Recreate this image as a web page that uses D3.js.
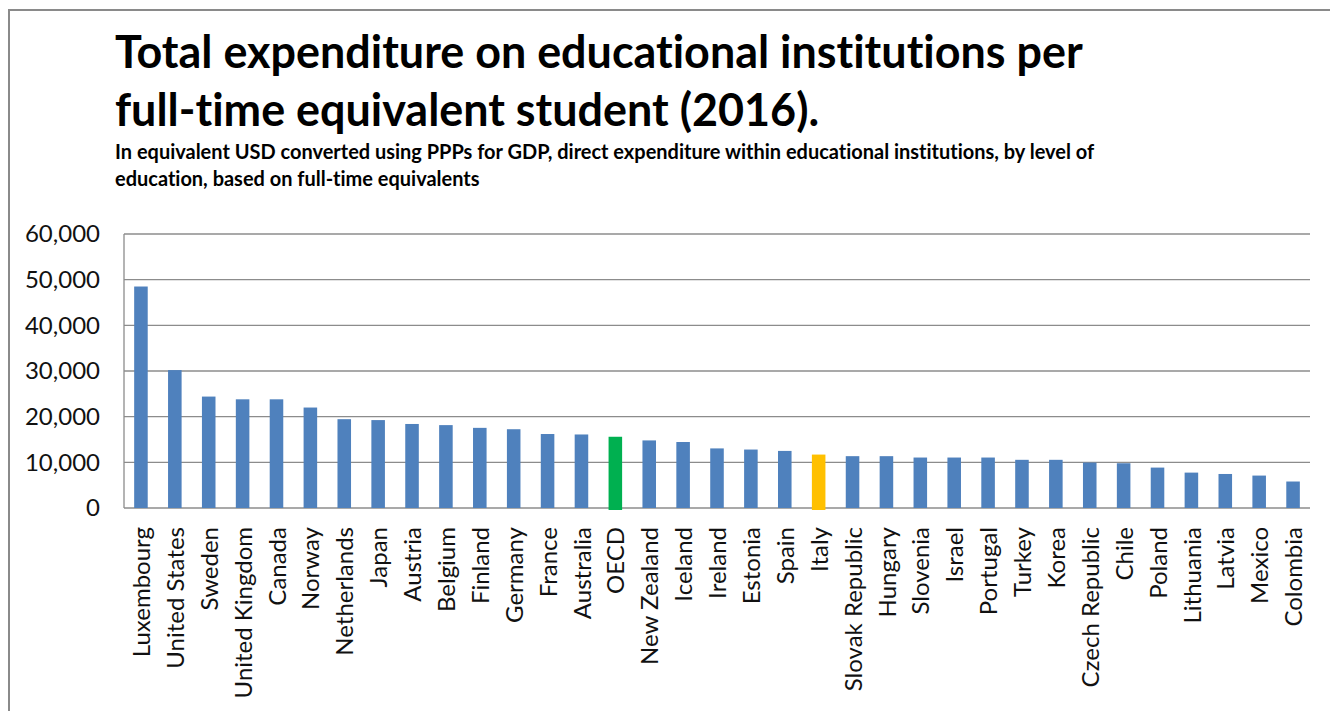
<!DOCTYPE html>
<html>
<head>
<meta charset="utf-8">
<script src="https://cdn.jsdelivr.net/npm/d3@7"></script>
<style>
  html, body { margin: 0; padding: 0; background: #fff; }
  svg { display: block; font-family: Lato, "Open Sans", sans-serif; }
  svg text { font-variant-ligatures: none; font-feature-settings: "liga" 0, "clig" 0, "dlig" 0, "calt" 0; }
</style>
</head>
<body>
<svg id="chart" width="1330" height="711"></svg>
<script>
// ─── Datos ────────────────────────────────────────────────────────────────
const countries = [
  'Luxembourg', 'United States', 'Sweden', 'United Kingdom', 'Canada', 'Norway',
  'Netherlands', 'Japan', 'Austria', 'Belgium', 'Finland', 'Germany', 'France',
  'Australia', 'OECD', 'New Zealand', 'Iceland', 'Ireland', 'Estonia', 'Spain',
  'Italy', 'Slovak Republic', 'Hungary', 'Slovenia', 'Israel', 'Portugal',
  'Turkey', 'Korea', 'Czech Republic', 'Chile', 'Poland', 'Lithuania', 'Latvia',
  'Mexico', 'Colombia'
];
const expenditure = [
  48500, 30200, 24400, 23800, 23800, 22000,
  19450, 19250, 18400, 18150, 17550, 17250, 16200,
  16100, 15600, 14800, 14450, 13050, 12800, 12500,
  11700, 11350, 11350, 11050, 11050, 11050,
  10550, 10550, 9950, 9800, 8850, 7750, 7450,
  7100, 5800
];
const highlight = { 'OECD': '#00b050', 'Italy': '#ffc000' };
const yTicks = [0, 10000, 20000, 30000, 40000, 50000, 60000];

const titleLines = [
  'Total expenditure on educational institutions per',
  'full-time equivalent student (2016).'
];
const subtitleLines = [
  'In equivalent USD converted using PPPs for GDP, direct expenditure within educational institutions, by level of',
  'education, based on full-time equivalents'
];

// ─── Layout ───────────────────────────────────────────────────────────────
const svg = d3.select('#chart');
const plot = { left: 124, right: 1310, top: 234, bottom: 508 };

// marco exterior
svg.append('path')
  .attr('d', 'M9,711 V10 H1330')
  .attr('fill', 'none')
  .attr('stroke', '#8a8a8a')
  .attr('stroke-width', 2);

// ─── Título ───────────────────────────────────────────────────────────────
function fitText(sel, width) {
  const w = sel.node().getComputedTextLength();
  const fs = parseFloat(sel.attr('font-size'));
  sel.attr('font-size', fs * width / w);
}

const t1 = svg.append('text').attr('x', 115).attr('y', 68)
  .attr('font-size', 44).attr('font-weight', 700).attr('fill', '#000')
  .text(titleLines[0]);
fitText(t1, 968);
svg.append('text').attr('x', 115).attr('y', 126)
  .attr('font-size', t1.attr('font-size')).attr('font-weight', 700).attr('fill', '#000')
  .text(titleLines[1]);

const s1 = svg.append('text').attr('x', 115).attr('y', 159)
  .attr('font-size', 17).attr('font-weight', 700).attr('fill', '#000')
  .text(subtitleLines[0]);
fitText(s1, 980);
svg.append('text').attr('x', 115).attr('y', 186)
  .attr('font-size', s1.attr('font-size')).attr('font-weight', 700).attr('fill', '#000')
  .text(subtitleLines[1]);

// ─── Escalas ──────────────────────────────────────────────────────────────
const x = d3.scaleBand()
  .domain(countries)
  .range([plot.left, plot.right])
  .paddingInner(0.6)
  .paddingOuter(0.3);

const y = d3.scaleLinear()
  .domain([0, 60000])
  .range([plot.bottom, plot.top]);

// rejilla
svg.append('g')
  .selectAll('line')
  .data(yTicks)
  .join('line')
  .attr('x1', plot.left).attr('x2', plot.right)
  .attr('y1', d => y(d)).attr('y2', d => y(d))
  .attr('stroke', '#8c8c8c')
  .attr('stroke-width', 1.3);

// eje vertical
svg.append('line')
  .attr('x1', plot.left).attr('x2', plot.left)
  .attr('y1', plot.top).attr('y2', plot.bottom)
  .attr('stroke', '#8c8c8c').attr('stroke-width', 1.3);

// etiquetas eje Y
const yAxis = d3.axisLeft(y).tickValues(yTicks).tickFormat(d3.format(',')).tickSize(0).tickPadding(24);
const gy = svg.append('g').attr('transform', `translate(${plot.left},0)`).call(yAxis);
gy.select('.domain').remove();
gy.selectAll('text')
  .attr('font-family', 'Lato, "Open Sans", sans-serif')
  .attr('font-size', 24)
  .attr('fill', '#111');

// barras
svg.append('g')
  .selectAll('rect')
  .data(countries)
  .join('rect')
  .attr('x', d => x(d))
  .attr('width', x.bandwidth())
  .attr('y', (d, i) => y(expenditure[i]))
  .attr('height', (d, i) => y(0) - y(expenditure[i]) + (highlight[d] ? 2 : 0))
  .attr('fill', d => highlight[d] || '#4f81bd');

// etiquetas eje X
svg.append('g')
  .selectAll('text')
  .data(countries)
  .join('text')
  .attr('transform', d => `translate(${x(d) + x.bandwidth() / 2},527) rotate(-90)`)
  .attr('text-anchor', 'end')
  .attr('dy', '0.38em')
  .attr('font-size', 24)
  .attr('fill', '#111')
  .text(d => d);
</script>
</body>
</html>
